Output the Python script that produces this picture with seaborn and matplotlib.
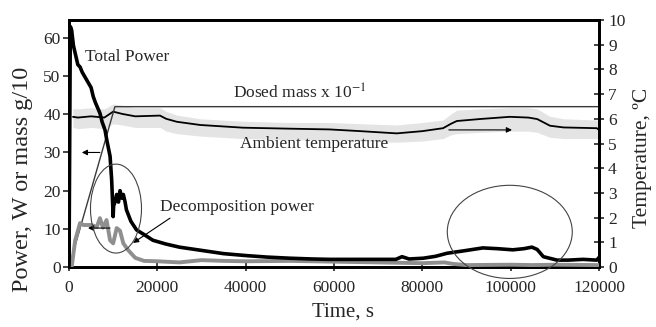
import matplotlib
matplotlib.use("Agg")
import matplotlib.pyplot as plt
from matplotlib.patches import Ellipse
import seaborn as sns
import pandas as pd

# ---- data ----
total_t = [0, 300, 600, 1000, 1400, 2000, 2500, 3000, 4000, 5000, 5500, 6000, 7000, 7500,
           8150, 8600, 9300, 9660, 10000, 10100, 10400, 10800, 11200, 11550, 12000, 12300,
           12700, 13000, 14000, 15300, 17000, 19000, 22000, 25000, 29700, 35000, 40000,
           44800, 50000, 55000, 59000, 65000, 70000, 74000, 75400, 77000, 80200, 83000,
           85600, 89200, 93700, 97000, 100500, 103000, 104800, 106000, 107400, 110500,
           113000, 116400, 119500, 120000]
total_p = [0, 63, 62, 58, 56, 53, 52.4, 51, 49, 47, 44.6, 43, 40.3, 38,
           35.9, 33, 29, 22.8, 13.2, 16, 17, 19, 17, 20, 18, 19,
           17, 15, 12, 9.7, 8.5, 7, 6, 5.2, 4.4, 3.5, 3.0,
           2.6, 2.3, 2.1, 2.0, 2.0, 2.0, 2.0, 2.7, 2.1, 2.3, 2.8,
           3.6, 4.2, 5.0, 4.8, 4.5, 4.8, 5.2, 4.6, 2.7, 1.8,
           1.8, 2.0, 1.8, 2.5]

decomp_t = [0, 600, 1400, 2500, 3300, 4000, 5000, 6300, 7000, 7700, 8500, 9300, 10000,
            10800, 11550, 12300, 13400, 15000, 17000, 20000, 25000, 30000, 35000, 40000,
            50000, 60000, 70000, 80000, 85000, 87000, 90000, 100000, 105000, 110000, 120000]
decomp_p = [0, 0, 7, 11.5, 11, 11, 11, 10.5, 12.8, 10.3, 12.3, 7, 6.2,
            10.2, 9.5, 6.2, 4.4, 2.4, 1.6, 1.5, 1.2, 1.8, 1.6, 1.5,
            1.6, 1.4, 1.2, 1.0, 1.2, 0.8, 0.5, 0.6, 0.5, 0.6, 0.5]

dosed_t = [0, 10400, 120000]
dosed_m = [0, 42, 42]

amb_t = [900, 2000, 5000, 8000, 10000, 12000, 15000, 20600, 22000, 24400, 29700, 39400,
         50000, 59000, 66000, 74200, 80000, 84700, 86500, 87800, 93000, 99800, 104000,
         106000, 108900, 112000, 119500, 120000]
amb_T = [6.08, 6.05, 6.1, 6.05, 6.29, 6.2, 6.1, 6.13, 6.0, 5.88, 5.75, 5.64,
         5.6, 5.57, 5.5, 5.41, 5.5, 5.62, 5.8, 5.91, 5.99, 6.08, 6.05,
         5.99, 5.72, 5.65, 5.62, 5.55]
amb_hi = [6.42, 6.40, 6.45, 6.40, 6.60, 6.55, 6.45, 6.45, 6.30, 6.15, 6.00, 5.90,
          5.85, 5.85, 5.80, 5.75, 5.85, 5.95, 6.20, 6.35, 6.40, 6.45, 6.45,
          6.40, 6.10, 6.00, 5.95, 5.90]
amb_lo = [5.65, 5.60, 5.65, 5.60, 5.80, 5.75, 5.65, 5.65, 5.50, 5.40, 5.30, 5.20,
          5.15, 5.15, 5.10, 5.05, 5.10, 5.20, 5.35, 5.40, 5.45, 5.50, 5.50,
          5.45, 5.25, 5.20, 5.20, 5.15]

x_ticks = [0, 20000, 40000, 60000, 80000, 100000, 120000]
left_ticks = [0, 10, 20, 30, 40, 50, 60]
right_ticks = list(range(0, 11))

# ---- figure ----
sns.set_style("ticks")
plt.rcParams["font.family"] = ["Liberation Serif", "DejaVu Serif"]
plt.rcParams["mathtext.fontset"] = "stix"

fig = plt.figure(figsize=(6.56, 3.27), dpi=100)
ax = fig.add_axes([69/656, 1-267/327, 530/656, 247/327])
ax2 = ax.twinx()

df_total = pd.DataFrame({"t": total_t, "p": total_p})
df_dec = pd.DataFrame({"t": decomp_t, "p": decomp_p})
df_dose = pd.DataFrame({"t": dosed_t, "m": dosed_m})
df_amb = pd.DataFrame({"t": amb_t, "T": amb_T})

ax2.fill_between(amb_t, amb_lo, amb_hi, color="#e4e4e4", lw=0, zorder=1)
sns.lineplot(data=df_amb, x="t", y="T", ax=ax2, color="black", lw=1.3, zorder=3)

sns.lineplot(data=df_dose, x="t", y="m", ax=ax, color="#3a3a3a", lw=1.0, zorder=2)
sns.lineplot(data=df_dec, x="t", y="p", ax=ax, color="#8f8f8f", lw=2.8, zorder=3)
sns.lineplot(data=df_total, x="t", y="p", ax=ax, color="black", lw=2.6, zorder=4)

ax.set_xlim(0, 120000)
ax.set_ylim(0, 64.7)
ax2.set_ylim(0, 10)
ax.set_xticks(x_ticks)
ax.set_xticklabels([str(v) for v in x_ticks])
ax.set_yticks(left_ticks)
ax2.set_yticks(right_ticks)

fs = 12.5
ax.tick_params(axis="y", direction="out", length=4, width=1.2, labelsize=fs, pad=2)
ax.tick_params(axis="x", direction="inout", length=6, width=1.2, labelsize=fs, pad=6)
ax2.tick_params(axis="y", direction="inout", length=7, width=1.2, labelsize=fs, pad=3)

for a in (ax, ax2):
    for s in a.spines.values():
        s.set_linewidth(2.0)
        s.set_color("black")
        s.set_visible(True)

ax.set_xlabel("Time, s", fontsize=15)
ax.xaxis.set_label_coords(0.517, -0.145)
ax.set_ylabel("Power, W or mass g/10", fontsize=17.5)
ax.yaxis.set_label_coords(-0.068, 0.355)
ax2.set_ylabel("Temperature, ºC", fontsize=15.5)
ax2.yaxis.set_label_coords(1.064, 0.44)
ax.set_zorder(ax2.get_zorder() + 1)
ax.patch.set_visible(False)

# ellipses
ax.add_patch(Ellipse((10640, 15.3), 11550, 23.3, fill=False, ec="#444444", lw=0.8, zorder=5))
ax.add_patch(Ellipse((99800, 9.2), 28300, 24.4, fill=False, ec="#444444", lw=0.8,
                     zorder=5, clip_on=False))

# annotations
ap = dict(arrowstyle="-|>", color="black", lw=0.8, mutation_scale=8, shrinkA=0, shrinkB=0)
ax.annotate("", xy=(2900, 30), xytext=(7000, 30), arrowprops=ap)
ax.annotate("", xy=(4300, 10.2), xytext=(9300, 10.2), arrowprops=ap)
ax.annotate("", xy=(14500, 6.3), xytext=(22870, 12.8), arrowprops=ap)
ax2.annotate("", xy=(100300, 5.55), xytext=(86000, 5.55), arrowprops=ap)

ax.text(3620, 55.0, "Total Power", fontsize=fs, ha="left", va="center")
ax.text(37100, 45.5, "Dosed mass x 10$^{-1}$", fontsize=fs, ha="left", va="center")
ax.text(38700, 32.3, "Ambient temperature", fontsize=fs, ha="left", va="center")
ax.text(20600, 15.7, "Decomposition power", fontsize=fs, ha="left", va="center")

fig.savefig("out.png", dpi=100)
